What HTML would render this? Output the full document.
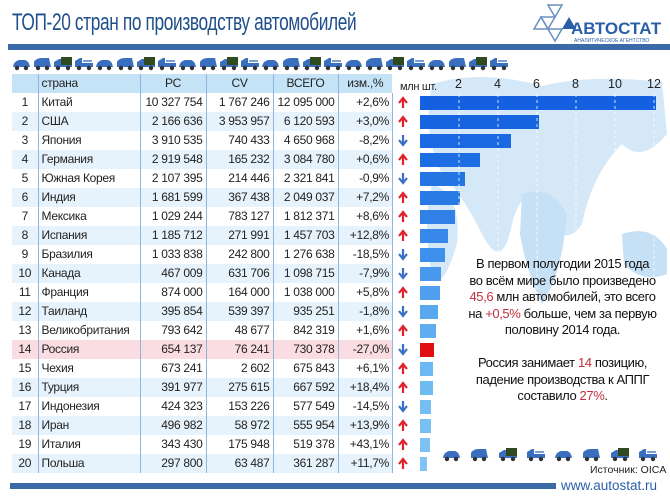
<!DOCTYPE html>
<html><head><meta charset="utf-8">
<style>
*{margin:0;padding:0;box-sizing:border-box}
body{width:670px;height:500px;background:#fff;position:relative;overflow:hidden;font-family:"Liberation Sans","DejaVu Sans",sans-serif}
.title{position:absolute;left:12px;top:9px;font-size:24px;color:#1f4f8c;letter-spacing:-0.5px;transform:scaleX(0.72);transform-origin:left;white-space:nowrap}
.bar1{position:absolute;left:8px;top:44px;width:662px;height:6px;background:#3a6ba8}
table{position:absolute;left:12px;top:74px;border-collapse:collapse;font-size:12px;color:#222;table-layout:fixed;width:380px;letter-spacing:-0.3px}
td{height:19px;line-height:19px;padding:0 3px;white-space:nowrap;overflow:hidden}
td.n{text-align:center}
td.c{border-left:1px solid #8fb4dd}
td.r{text-align:right;border-left:1px solid #8fb4dd}
td.a{border-left:1px solid #8fb4dd}
tr.h td{background:#c5e3f7}
tr.h td.r{text-align:center}
tr.e td{background:#e7f3fc}
tr.ru td{background:#f9dde2}
.b{position:absolute;left:420px;height:14px}
.txt{position:absolute;left:455px;top:256px;font-size:13px;color:#111;line-height:16.5px;text-align:center;width:215px;white-space:nowrap;letter-spacing:-0.4px}
.red{color:#c0303a}
</style></head><body>
<div class="title">ТОП-20 стран по производству автомобилей</div>
<div class="bar1"></div>
<svg style="position:absolute;left:528px;top:3px" width="140" height="42">
<polygon points="20,2 34,2 27,14" fill="none" stroke="#6a8fc0" stroke-width="1.5"/>
<polygon points="6,26 20,26 13,14" fill="none" stroke="#6a8fc0" stroke-width="1.5"/>
<polygon points="20,26 34,26 27,38" fill="none" stroke="#6a8fc0" stroke-width="1.5"/>
<polygon points="34,26 48,26 41,14" fill="#2a5fa8"/>
<polygon points="13,14 27,14 20,26" fill="none" stroke="#6a8fc0" stroke-width="1.5"/>
<text x="43" y="31" font-family="Liberation Sans" font-weight="bold" font-size="17" fill="#2a5fa8">АВТОСТАТ</text>
<text x="46" y="39" font-family="Liberation Sans" font-size="5" fill="#2a5fa8">АНАЛИТИЧЕСКОЕ АГЕНТСТВО</text>
</svg>
<svg style="position:absolute;left:392px;top:74px" width="278" height="380">
<path d="M40 10 Q90 -5 150 12 Q200 0 270 8 L275 60 Q250 90 230 70 Q200 100 190 150 Q170 180 150 130 Q130 110 120 150 Q110 200 90 160 Q70 120 50 100 Q30 60 40 10Z" fill="#d4e8f8"/>
<path d="M130 120 Q160 110 175 140 Q170 200 150 230 Q135 200 128 160Z" fill="#c6e0f5"/>
<path d="M230 160 Q260 150 275 175 L275 200 Q250 210 232 190Z" fill="#c6e0f5"/>
<path d="M40 110 Q70 120 65 170 Q50 220 40 200 Q30 150 40 110Z" fill="#d4e8f8"/>
</svg>
<svg style="position:absolute;left:12px;top:55px" width="500" height="18">
<g fill="#3a6fc0">
<defs>
<g id="c1"><path d="M1 12 Q2 6 7 5 L13 5 Q17 6 18 12Z"/><circle cx="5" cy="13" r="2.2" fill="#333"/><circle cx="14" cy="13" r="2.2" fill="#333"/></g>
<g id="c2"><path d="M1 12 L1 7 Q3 3 9 3 L16 3 L18 12Z"/><circle cx="5" cy="13" r="2.2" fill="#333"/><circle cx="14" cy="13" r="2.2" fill="#333"/></g>
<g id="c3"><path d="M1 12 L1 7 L6 4 L8 4 L8 12Z"/><rect x="8" y="2" width="11" height="9" fill="#2f4a1e"/><rect x="1" y="10" width="18" height="2"/><circle cx="5" cy="13" r="2.2" fill="#333"/><circle cx="15" cy="13" r="2.2" fill="#333"/></g>
<g id="c4"><path d="M1 12 L1 6 L6 3 L8 3 L8 8 L19 8 L19 12Z"/><rect x="9" y="5" width="9" height="2" fill="#7aa0d0"/><circle cx="5" cy="13" r="2.2" fill="#333"/><circle cx="15" cy="13" r="2.2" fill="#333"/></g>
<g id="up"><path d="M5 12 L5 4 M1 7 L5 2 L9 7" stroke="#e0202a" stroke-width="2.2" fill="none"/></g>
<g id="dn"><path d="M5 1 L5 10 M1 6 L5 11 L9 6" stroke="#3a6fc8" stroke-width="2.2" fill="none"/></g>
</defs>
<use href="#c1" x="0"/><use href="#c2" x="21"/><use href="#c3" x="41"/><use href="#c4" x="62"/>
<use href="#c1" x="83"/><use href="#c2" x="104"/><use href="#c3" x="124"/><use href="#c4" x="145"/>
<use href="#c1" x="166"/><use href="#c2" x="187"/><use href="#c3" x="207"/><use href="#c4" x="228"/>
<use href="#c1" x="249"/><use href="#c2" x="270"/><use href="#c3" x="290"/><use href="#c4" x="311"/>
<use href="#c1" x="332"/><use href="#c2" x="353"/><use href="#c3" x="373"/><use href="#c4" x="394"/>
<use href="#c1" x="415"/><use href="#c2" x="436"/><use href="#c3" x="456"/><use href="#c4" x="477"/>
</g></svg>
<table>
<colgroup><col style="width:26px"><col style="width:102px"><col style="width:66px"><col style="width:67px"><col style="width:65px"><col style="width:54px"></colgroup>
<tr class="h"><td class="n"></td><td class="c">страна</td><td class="r">PC</td><td class="r">CV</td><td class="r">ВСЕГО</td><td class="r">изм.,%</td></tr>
<tr><td class="n">1</td><td class="c">Китай</td><td class="r">10 327 754</td><td class="r">1 767 246</td><td class="r">12 095 000</td><td class="r">+2,6%</td></tr>
<tr class="e"><td class="n">2</td><td class="c">США</td><td class="r">2 166 636</td><td class="r">3 953 957</td><td class="r">6 120 593</td><td class="r">+3,0%</td></tr>
<tr><td class="n">3</td><td class="c">Япония</td><td class="r">3 910 535</td><td class="r">740 433</td><td class="r">4 650 968</td><td class="r">-8,2%</td></tr>
<tr class="e"><td class="n">4</td><td class="c">Германия</td><td class="r">2 919 548</td><td class="r">165 232</td><td class="r">3 084 780</td><td class="r">+0,6%</td></tr>
<tr><td class="n">5</td><td class="c">Южная Корея</td><td class="r">2 107 395</td><td class="r">214 446</td><td class="r">2 321 841</td><td class="r">-0,9%</td></tr>
<tr class="e"><td class="n">6</td><td class="c">Индия</td><td class="r">1 681 599</td><td class="r">367 438</td><td class="r">2 049 037</td><td class="r">+7,2%</td></tr>
<tr><td class="n">7</td><td class="c">Мексика</td><td class="r">1 029 244</td><td class="r">783 127</td><td class="r">1 812 371</td><td class="r">+8,6%</td></tr>
<tr class="e"><td class="n">8</td><td class="c">Испания</td><td class="r">1 185 712</td><td class="r">271 991</td><td class="r">1 457 703</td><td class="r">+12,8%</td></tr>
<tr><td class="n">9</td><td class="c">Бразилия</td><td class="r">1 033 838</td><td class="r">242 800</td><td class="r">1 276 638</td><td class="r">-18,5%</td></tr>
<tr class="e"><td class="n">10</td><td class="c">Канада</td><td class="r">467 009</td><td class="r">631 706</td><td class="r">1 098 715</td><td class="r">-7,9%</td></tr>
<tr><td class="n">11</td><td class="c">Франция</td><td class="r">874 000</td><td class="r">164 000</td><td class="r">1 038 000</td><td class="r">+5,8%</td></tr>
<tr class="e"><td class="n">12</td><td class="c">Таиланд</td><td class="r">395 854</td><td class="r">539 397</td><td class="r">935 251</td><td class="r">-1,8%</td></tr>
<tr><td class="n">13</td><td class="c">Великобритания</td><td class="r">793 642</td><td class="r">48 677</td><td class="r">842 319</td><td class="r">+1,6%</td></tr>
<tr class="ru"><td class="n">14</td><td class="c">Россия</td><td class="r">654 137</td><td class="r">76 241</td><td class="r">730 378</td><td class="r">-27,0%</td></tr>
<tr><td class="n">15</td><td class="c">Чехия</td><td class="r">673 241</td><td class="r">2 602</td><td class="r">675 843</td><td class="r">+6,1%</td></tr>
<tr class="e"><td class="n">16</td><td class="c">Турция</td><td class="r">391 977</td><td class="r">275 615</td><td class="r">667 592</td><td class="r">+18,4%</td></tr>
<tr><td class="n">17</td><td class="c">Индонезия</td><td class="r">424 323</td><td class="r">153 226</td><td class="r">577 549</td><td class="r">-14,5%</td></tr>
<tr class="e"><td class="n">18</td><td class="c">Иран</td><td class="r">496 982</td><td class="r">58 972</td><td class="r">555 954</td><td class="r">+13,9%</td></tr>
<tr><td class="n">19</td><td class="c">Италия</td><td class="r">343 430</td><td class="r">175 948</td><td class="r">519 378</td><td class="r">+43,1%</td></tr>
<tr class="e"><td class="n">20</td><td class="c">Польша</td><td class="r">297 800</td><td class="r">63 487</td><td class="r">361 287</td><td class="r">+11,7%</td></tr>
</table>
<div style="position:absolute;left:392px;top:93px;width:1px;height:380px;background:#8fb4dd"></div>
<div style="position:absolute;left:400px;top:81px;font-size:11px;color:#222;letter-spacing:-0.3px">млн шт.</div>
<div style="position:absolute;top:77px;left:0;font-size:12.5px;color:#222">
<span style="position:absolute;left:455px">2</span><span style="position:absolute;left:494px">4</span><span style="position:absolute;left:533px">6</span><span style="position:absolute;left:572px">8</span><span style="position:absolute;left:608px">10</span><span style="position:absolute;left:647px">12</span></div>
<svg style="position:absolute;left:398px;top:93px" width="14" height="380">
<use href="#up" y="3"/><use href="#up" y="22"/><use href="#dn" y="41"/><use href="#up" y="60"/><use href="#dn" y="79"/>
<use href="#up" y="98"/><use href="#up" y="117"/><use href="#up" y="136"/><use href="#dn" y="155"/><use href="#dn" y="174"/>
<use href="#up" y="193"/><use href="#dn" y="212"/><use href="#up" y="231"/><use href="#dn" y="250"/><use href="#up" y="269"/>
<use href="#up" y="288"/><use href="#dn" y="307"/><use href="#up" y="326"/><use href="#up" y="345"/><use href="#up" y="364"/>
</svg>
<div class="b" style="top:96px;width:236px;background:#1560e0"></div>
<div class="b" style="top:115px;width:119px;background:#1764e0"></div>
<div class="b" style="top:134px;width:91px;background:#1a68e2"></div>
<div class="b" style="top:153px;width:60px;background:#1e6ee3"></div>
<div class="b" style="top:172px;width:45px;background:#2474e4"></div>
<div class="b" style="top:191px;width:40px;background:#2a7ae6"></div>
<div class="b" style="top:210px;width:35px;background:#3080e8"></div>
<div class="b" style="top:229px;width:28px;background:#3788ea"></div>
<div class="b" style="top:248px;width:25px;background:#3f90ec"></div>
<div class="b" style="top:267px;width:21px;background:#4898ee"></div>
<div class="b" style="top:286px;width:20px;background:#50a0ef"></div>
<div class="b" style="top:305px;width:18px;background:#58a8f0"></div>
<div class="b" style="top:324px;width:16px;background:#60aef1"></div>
<div class="b" style="top:343px;width:14px;background:#e01010"></div>
<div class="b" style="top:362px;width:13px;background:#6cb8f2"></div>
<div class="b" style="top:381px;width:13px;background:#70bcf2"></div>
<div class="b" style="top:400px;width:11px;background:#74bef3"></div>
<div class="b" style="top:419px;width:11px;background:#78c0f3"></div>
<div class="b" style="top:438px;width:10px;background:#7cc2f4"></div>
<div class="b" style="top:457px;width:7px;background:#80c4f4"></div>
<svg style="position:absolute;left:420px;top:94px" width="250" height="380">
<g stroke="#ffffff" stroke-width="1" stroke-dasharray="3,3" opacity="0.8">
<line x1="39" y1="0" x2="39" y2="380"/><line x1="78" y1="0" x2="78" y2="380"/><line x1="117" y1="0" x2="117" y2="380"/><line x1="156" y1="0" x2="156" y2="380"/><line x1="195" y1="0" x2="195" y2="380"/><line x1="234" y1="0" x2="234" y2="380"/>
</g></svg>
<div class="txt">В первом полугодии 2015 года<br>во всём мире было произведено<br><span class="red">45,6</span> млн автомобилей, это всего<br>на <span class="red">+0,5%</span> больше, чем за первую<br>половину 2014 года.<br><br>Россия занимает <span class="red">14</span> позицию,<br>падение производства к АППГ<br>составило <span class="red">27%</span>.</div>
<svg style="position:absolute;left:442px;top:446px" width="228" height="18">
<g fill="#3a6fc0"><use href="#c1" x="0"/><use href="#c2" x="28"/><use href="#c3" x="56"/><use href="#c4" x="84"/><use href="#c1" x="112"/><use href="#c2" x="140"/><use href="#c3" x="168"/><use href="#c4" x="196"/></g></svg>
<div style="position:absolute;left:590px;top:464px;font-size:10.5px;color:#222">Источник: OICA</div>
<div style="position:absolute;left:10px;top:483px;width:546px;height:6px;background:#3a6ba8"></div>
<div style="position:absolute;left:561px;top:478px;font-size:13.5px;color:#2a5fa8">www.autostat.ru</div>
</body></html>
